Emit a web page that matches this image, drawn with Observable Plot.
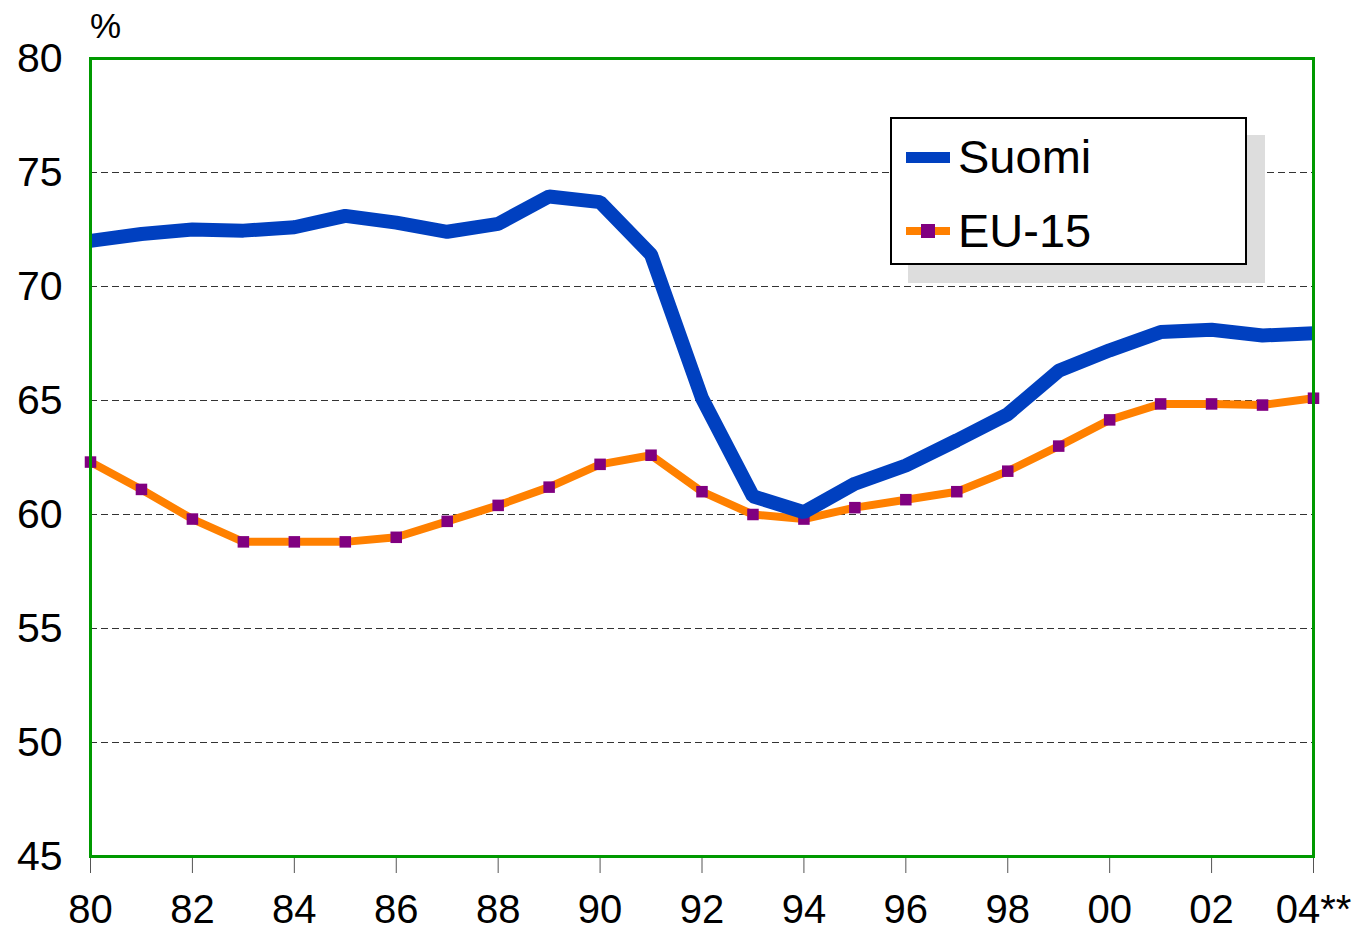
<!DOCTYPE html>
<html>
<head>
<meta charset="utf-8">
<script src="https://cdn.jsdelivr.net/npm/d3@7"></script>
<script src="https://cdn.jsdelivr.net/npm/@observablehq/plot@0.6"></script>
<style>
  html, body { margin: 0; padding: 0; background: #fff; }
  #wrap { position: relative; width: 1357px; height: 932px; font-family: "Liberation Sans", Arial, sans-serif; }
  #legend { position: absolute; left: 890px; top: 117px; width: 353px; height: 144px; border: 2px solid #000; background: #fff; box-shadow: 18px 18px 0 #dddddd; }
  .row { position: absolute; left: 0; height: 50px; width: 100%; }
  .row .swatch { position: absolute; left: 14px; width: 44px; }
  .row .lab { position: absolute; left: 66px; font-size: 47px; line-height: 50px; top: 0; color: #000; }
  #pct { position: absolute; left: 90px; top: 8px; font-size: 35px; line-height: 36px; }
</style>
</head>
<body>
<div id="wrap"></div>
<script>
const years = [1980,1981,1982,1983,1984,1985,1986,1987,1988,1989,1990,1991,1992,1993,1994,1995,1996,1997,1998,1999,2000,2001,2002,2003,2004];
const suomi = [72.0,72.3,72.5,72.45,72.6,73.1,72.8,72.4,72.75,73.95,73.7,71.4,65.1,60.8,60.1,61.35,62.15,63.25,64.4,66.3,67.2,68.0,68.1,67.85,67.95];
const eu15 = [62.3,61.1,59.8,58.8,58.8,58.8,59.0,59.7,60.4,61.2,62.2,62.6,61.0,60.0,59.8,60.3,60.65,61.0,61.9,63.0,64.15,64.85,64.85,64.8,65.1];
const xTicks = [1980,1982,1984,1986,1988,1990,1992,1994,1996,1998,2000,2002,2004];
const xTickLabels = ["80","82","84","86","88","90","92","94","96","98","00","02","04**"];
const yTicks = [45,50,55,60,65,70,75,80];
const gridValues = [50,55,60,65,70,75];
const seriesNames = ["Suomi","EU-15"];
const colors = {suomi: "#0040c0", eu: "#ff8000", marker: "#800080", frame: "#009900"};

const suomiData = years.map((y,i) => ({year: y, value: suomi[i]}));
const euData = years.map((y,i) => ({year: y, value: eu15[i]}));

const chart = Plot.plot({
  width: 1357,
  height: 932,
  marginLeft: 90,
  marginRight: 44,
  marginTop: 58,
  marginBottom: 76,
  style: {fontFamily: "'Liberation Sans', Arial, sans-serif", fontSize: "40px", color: "#000", background: "#fff"},
  x: {domain: [1980, 2004], label: null},
  y: {domain: [45, 80], label: null},
  marks: [
    Plot.ruleY(gridValues, {stroke: "#333", strokeWidth: 1, strokeDasharray: "7,4"}),
    Plot.axisX({ticks: xTicks, tickFormat: d => xTickLabels[xTicks.indexOf(d)], tickSize: 17, tickPadding: 21, stroke: "#555", label: null, fontSize: 40}),
    Plot.axisY({ticks: yTicks, tickSize: 0, tickPadding: 28, label: null, fontSize: 41}),
    Plot.line(euData, {x: "year", y: "value", stroke: colors.eu, strokeWidth: 8, strokeLinejoin: "miter", strokeLinecap: "butt"}),
    Plot.dot(euData, {x: "year", y: "value", symbol: "square", r: 6.5, fill: colors.marker, stroke: "none"}),
    Plot.line(suomiData, {x: "year", y: "value", stroke: colors.suomi, strokeWidth: 14, strokeLinejoin: "miter", strokeLinecap: "butt"}),
    Plot.frame({stroke: colors.frame, strokeWidth: 3})
  ]
});

const wrap = document.getElementById("wrap");
wrap.appendChild(chart);

const pct = document.createElement("div");
pct.id = "pct";
pct.textContent = "%";
wrap.appendChild(pct);

const legend = document.createElement("div");
legend.id = "legend";
legend.innerHTML = `
  <div class="row" style="top:13px">
    <div class="swatch" style="top:20px;height:11px;background:${colors.suomi}"></div>
    <div class="lab">${seriesNames[0]}</div>
  </div>
  <div class="row" style="top:87px">
    <div class="swatch" style="top:21px;height:8px;background:${colors.eu}"></div>
    <div class="swatch" style="left:29px;width:14px;top:18px;height:14px;background:${colors.marker}"></div>
    <div class="lab">${seriesNames[1]}</div>
  </div>`;
wrap.appendChild(legend);
</script>
</body>
</html>
